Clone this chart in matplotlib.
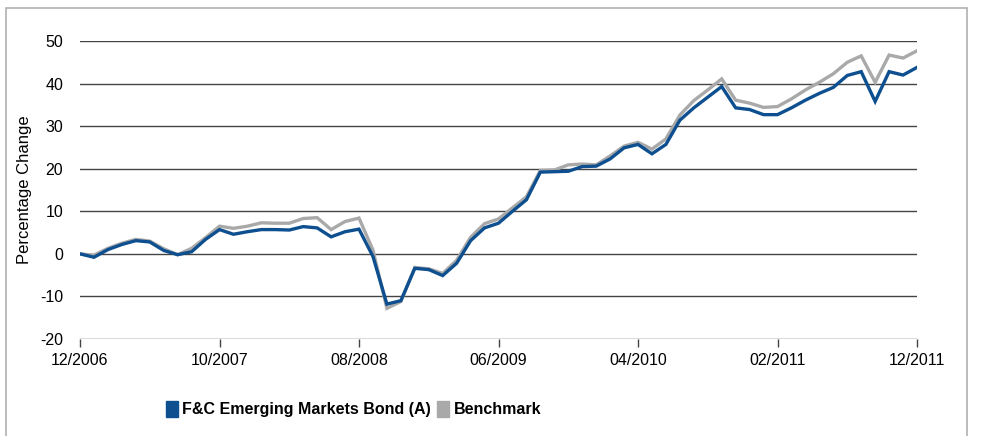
import matplotlib
matplotlib.use("Agg")
import matplotlib.pyplot as plt
from matplotlib.patches import Rectangle, Patch

# monthly values, 12/2006 .. 12/2011
fund = [0.0, -0.8, 1.0, 2.2, 3.1, 2.8, 0.8, -0.2, 0.5, 3.4,
        5.7, 4.6, 5.2, 5.7, 5.7, 5.6, 6.4, 6.1, 4.0, 5.2,
        5.8, -0.6, -11.8, -11.0, -3.4, -3.7, -5.1, -2.2, 3.1, 6.1,
        7.2, 10.0, 12.7, 19.2, 19.3, 19.4, 20.5, 20.6, 22.3, 24.9,
        25.7, 23.5, 25.7, 31.4, 34.3, 36.8, 39.3, 34.3, 33.9, 32.7,
        32.7, 34.3, 36.1, 37.7, 39.1, 41.9, 42.8, 35.8, 42.8, 42.0, 43.8]
bench = [0.0, -0.3, 1.3, 2.5, 3.4, 3.0, 1.2, -0.2, 1.3, 3.8,
         6.5, 6.0, 6.5, 7.3, 7.2, 7.2, 8.3, 8.5, 5.7, 7.6,
         8.4, 0.9, -12.8, -11.2, -3.2, -3.5, -4.6, -1.5, 3.9, 7.1,
         8.2, 10.8, 13.4, 19.6, 19.7, 20.9, 21.1, 20.9, 23.0, 25.3,
         26.2, 24.6, 27.0, 32.6, 36.0, 38.5, 41.1, 36.1, 35.4, 34.4,
         34.6, 36.4, 38.5, 40.3, 42.3, 45.0, 46.5, 40.3, 46.7, 46.0, 47.7]
xlabels = ["12/2006", "10/2007", "08/2008", "06/2009", "04/2010", "02/2011", "12/2011"]
yticks = [-20, -10, 0, 10, 20, 30, 40, 50]

blue = "#0d4f8f"
grey = "#a9a9a9"

plt.rcParams["font.family"] = ["Liberation Sans", "DejaVu Sans"]

fig = plt.figure(figsize=(9.81, 4.36), dpi=100)
ax = fig.add_axes([80 / 981, 1 - 339 / 436, 837 / 981, 298 / 436])

months = list(range(len(fund)))
for y in yticks:
    ax.axhline(y, color="#444444", lw=1.0, zorder=1)
ax.plot(months, fund, color=blue, lw=2.4, zorder=3, solid_joinstyle="miter")
ax.plot(months, bench, color=grey, lw=2.4, zorder=2, solid_joinstyle="miter")

ax.set_xlim(0, 60)
ax.set_ylim(-20, 50)
ax.set_xticks(range(0, 61, 10))
ax.set_xticklabels(xlabels, fontsize=11.5)
ax.set_yticks(yticks)
ax.set_yticklabels([str(v) for v in yticks], fontsize=11.5)
ax.tick_params(axis="y", length=0, pad=12)
ax.tick_params(axis="x", length=6, width=1, color="#444444", pad=4)
for s in ["left", "right", "top", "bottom"]:
    ax.spines[s].set_visible(False)
ax.set_ylabel("Percentage Change", fontsize=12, labelpad=6)

handles = [Patch(color=blue), Patch(color=grey)]
leg = fig.legend(handles, ["F&C Emerging Markets Bond (A)", "Benchmark"],
                 loc="center left", bbox_to_anchor=(152 / 981, 1 - 409 / 436),
                 ncol=2, frameon=False, handlelength=0.75, handleheight=1.2,
                 handletextpad=0.25, columnspacing=0.4,
                 prop={"weight": "bold", "size": 11.5})

fig.patches.append(Rectangle((6 / 981, -0.1), 961 / 981, 1.1 - 8 / 436,
                             transform=fig.transFigure, fill=False,
                             edgecolor="#b0b0b0", lw=1.2))

fig.savefig("out.png", dpi=100)
